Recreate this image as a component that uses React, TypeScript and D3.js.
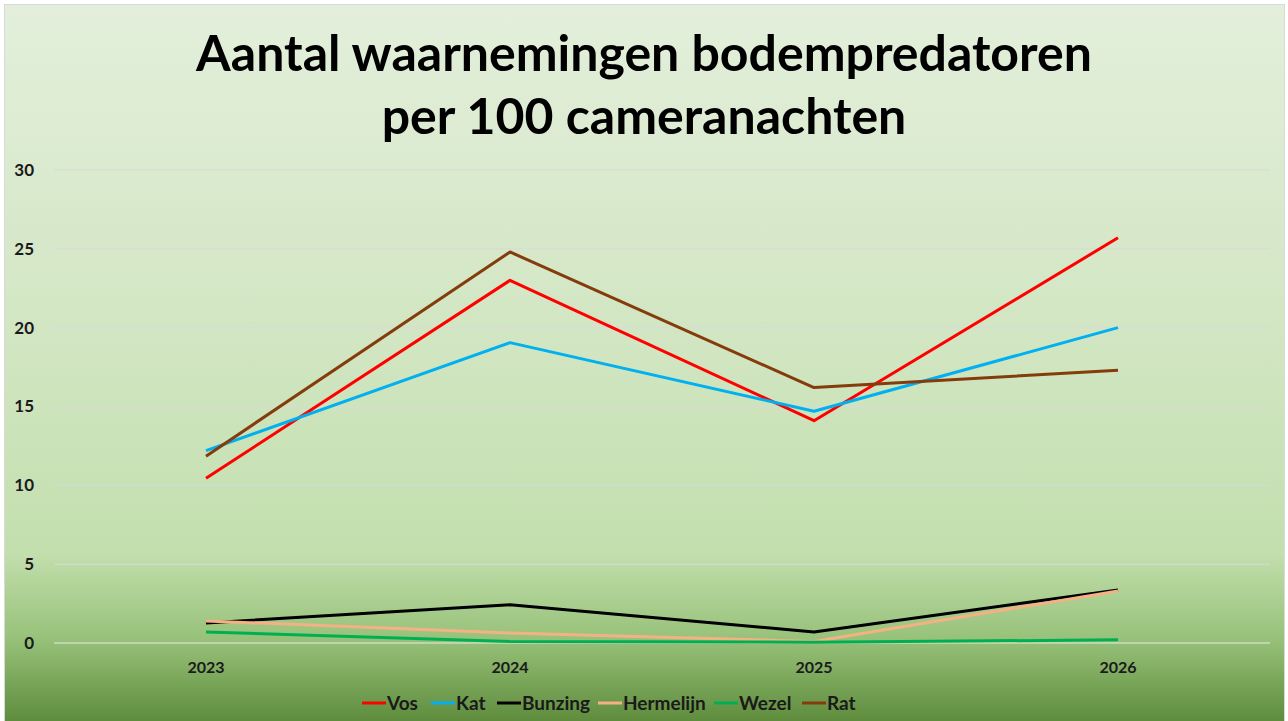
import * as React from "react"
import * as d3 from "d3"

const WIDTH = 1288
const HEIGHT = 721

const years = ["2023", "2024", "2025", "2026"]
const seriesNames = ["Vos", "Kat", "Bunzing", "Hermelijn", "Wezel", "Rat"]
const seriesColors = ["#ff0000", "#00b0f0", "#000000", "#f4b183", "#00b050", "#843c0c"]

const vos = [10.45, 23.0, 14.1, 25.7]
const kat = [12.2, 19.05, 14.7, 20.0]
const bunzing = [1.27, 2.42, 0.7, 3.36]
const hermelijn = [1.4, 0.63, 0.1, 3.3]
const wezel = [0.7, 0.1, 0.05, 0.2]
const rat = [11.85, 24.8, 16.2, 17.3]

const seriesValues = [vos, kat, bunzing, hermelijn, wezel, rat]
const yTicks = [0, 5, 10, 15, 20, 25, 30]

const FONT = "Lato, 'Open Sans', sans-serif"

export default function App() {
  const x = d3.scaleBand().domain(years).range([54, 1270])
  const y = d3.scaleLinear().domain([0, 30]).range([643, 170])

  const line = d3
    .line<number>()
    .x((d, i) => x(years[i])! + x.bandwidth() / 2)
    .y(d => y(d))

  // legend positions taken from the reference layout
  const legendX = [362, 431, 497, 598, 714, 802]

  return (
    <div style={{ position: "absolute", left: 0, top: 0 }}>
      <svg width={WIDTH} height={HEIGHT} style={{ display: "block" }}>
        <defs>
          <linearGradient id="bg" x1="0" y1="0" x2="0" y2="1">
            <stop offset="0" stopColor="#e3efdb" />
            <stop offset="0.45" stopColor="#d2e6c3" />
            <stop offset="0.76" stopColor="#c3dfae" />
            <stop offset="0.88" stopColor="#98c27a" />
            <stop offset="1" stopColor="#5c8a3a" />
          </linearGradient>
        </defs>
        <rect x={0} y={0} width={WIDTH} height={HEIGHT} fill="#ffffff" />
        <rect x={4.5} y={4.5} width={1280} height={720} fill="url(#bg)" stroke="#d9d9d9" />

        <text
          textAnchor="middle"
          fontFamily={FONT}
          fontWeight="bold"
          fontSize={50}
          fill="#000"
        >
          <tspan x={644} y={71}>Aantal waarnemingen bodempredatoren</tspan>
          <tspan x={644} y={134}>per 100 cameranachten</tspan>
        </text>

        {yTicks.map(t => (
          <g key={t}>
            <line x1={54} x2={1270} y1={y(t)} y2={y(t)} stroke={t === 0 ? "#e8e8e8" : "#d9d9d9"} strokeWidth={1} />
            <text
              x={34}
              y={y(t)}
              dy="0.35em"
              textAnchor="end"
              fontFamily={FONT}
              fontWeight="bold"
              fontSize={17}
              fill="#1a1a1a"
            >
              {t}
            </text>
          </g>
        ))}

        {years.map(yr => (
          <text
            key={yr}
            x={x(yr)! + x.bandwidth() / 2}
            y={667}
            dy="0.35em"
            textAnchor="middle"
            fontFamily={FONT}
            fontWeight="bold"
            fontSize={16}
            fill="#1a1a1a"
          >
            {yr}
          </text>
        ))}

        {seriesValues.map((vals, i) => (
          <path
            key={seriesNames[i]}
            d={line(vals) || ""}
            fill="none"
            stroke={seriesColors[i]}
            strokeWidth={3}
            strokeLinejoin="round"
          />
        ))}

        {seriesNames.map((name, i) => (
          <g key={name} transform={`translate(${legendX[i]},703)`}>
            <line x1={0} x2={24} y1={0} y2={0} stroke={seriesColors[i]} strokeWidth={3} />
            <text
              x={25}
              dy="0.35em"
              fontFamily={FONT}
              fontWeight="bold"
              fontSize={19}
              fill="#1a1a1a"
            >
              {name}
            </text>
          </g>
        ))}
      </svg>
    </div>
  )
}
